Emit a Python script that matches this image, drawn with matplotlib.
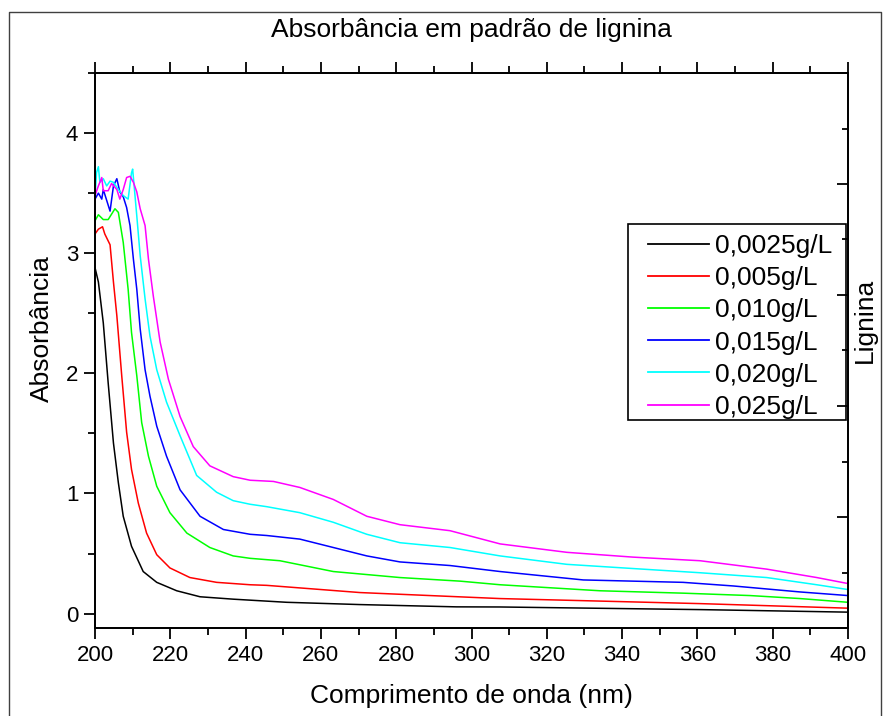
import numpy as np
import matplotlib
matplotlib.use("Agg")
import matplotlib.pyplot as plt
from matplotlib.lines import Line2D
from matplotlib.patches import Rectangle
from matplotlib.ticker import MultipleLocator

plt.rcParams['font.family'] = ['Liberation Sans', 'DejaVu Sans']

# curves (wavelength nm, absorbance)
wl_0025 = [200, 200.9, 202.2, 203.5, 204.9, 206.2, 207.5, 209.7, 212.8, 216.4, 221.7,
           227.9, 236.7, 250.9, 270.4, 296, 307.6, 361, 400]
ab_0025 = [2.88, 2.76, 2.42, 1.92, 1.42, 1.09, 0.81, 0.56, 0.35, 0.26, 0.19,
           0.14, 0.12, 0.094, 0.075, 0.056, 0.055, 0.033, 0.012]

wl_005 = [200, 200.9, 202.0, 202.6, 204.0, 204.9, 205.8, 207.1, 208.4, 209.7, 211.5,
          213.7, 216.4, 219.9, 225.2, 232.3, 241.2, 245.6, 270.4, 307.6, 360.7, 400]
ab_005 = [3.16, 3.2, 3.22, 3.16, 3.07, 2.76, 2.48, 1.98, 1.51, 1.2, 0.92,
          0.67, 0.49, 0.38, 0.30, 0.26, 0.24, 0.235, 0.175, 0.125, 0.083, 0.045]

wl_010 = [200, 200.9, 202.2, 203.5, 205.3, 206.2, 207.5, 208.8, 209.7, 211.1, 212.4,
          214.2, 216.4, 219.9, 224.4, 230.5, 236.7, 241.2, 249.1, 263.3, 281, 297,
          307.6, 334.1, 356.2, 374, 387.3, 400]
ab_010 = [3.27, 3.32, 3.28, 3.28, 3.37, 3.34, 3.09, 2.7, 2.34, 1.98, 1.59,
          1.31, 1.06, 0.84, 0.67, 0.55, 0.48, 0.46, 0.44, 0.35, 0.30, 0.27,
          0.24, 0.19, 0.17, 0.15, 0.125, 0.094]

wl_015 = [200, 200.9, 201.8, 202.2, 204.0, 204.9, 205.8, 206.6, 207.5, 208.4, 209.3,
          210.2, 211.1, 212.0, 213.3, 214.6, 216.4, 219.0, 222.6, 227.9, 234.1, 241.2,
          245.6, 254.4, 263.3, 272.2, 281, 294.3, 307.6, 329.7, 356.2, 369.5, 387.3, 400]
ab_015 = [3.45, 3.5, 3.45, 3.53, 3.35, 3.56, 3.62, 3.51, 3.47, 3.38, 3.23,
          2.95, 2.7, 2.37, 2.03, 1.81, 1.56, 1.31, 1.03, 0.81, 0.70, 0.66,
          0.65, 0.62, 0.55, 0.48, 0.43, 0.40, 0.35, 0.28, 0.26, 0.23, 0.18, 0.15]

wl_020 = [200, 200.4, 200.9, 201.3, 202.2, 203.1, 204.0, 204.9, 206.2, 207.5, 208.8,
          209.7, 210.0, 211.1, 212.0, 213.3, 214.6, 216.4, 219.0, 222.6, 227.0, 232.3,
          236.7, 241.2, 245.6, 254.4, 263.3, 272.2, 281, 294.3, 307.6, 325.3, 342.9,
          360.7, 378.4, 391.7, 400]
ab_020 = [3.45, 3.67, 3.72, 3.59, 3.62, 3.56, 3.6, 3.59, 3.53, 3.48, 3.45,
          3.67, 3.70, 3.31, 2.98, 2.62, 2.31, 2.03, 1.76, 1.48, 1.15, 1.01,
          0.94, 0.91, 0.89, 0.84, 0.76, 0.66, 0.59, 0.55, 0.48, 0.41, 0.375,
          0.34, 0.30, 0.24, 0.20]

wl_025 = [200, 200.9, 201.8, 202.2, 203.5, 204.4, 205.8, 206.6, 207.5, 208.4, 209.3,
          210.2, 211.1, 212.0, 213.3, 214.2, 215.5, 217.3, 219.5, 222.6, 226.1, 230.5,
          236.7, 241.2, 247.4, 254.4, 263.3, 272.2, 281, 294.3, 307.6, 325.3, 342.9,
          360.7, 378.4, 391.7, 400]
ab_025 = [3.48, 3.56, 3.63, 3.52, 3.52, 3.58, 3.53, 3.45, 3.53, 3.63, 3.64,
          3.59, 3.51, 3.37, 3.23, 2.95, 2.64, 2.26, 1.95, 1.64, 1.39, 1.23,
          1.14, 1.11, 1.10, 1.05, 0.95, 0.81, 0.74, 0.69, 0.58, 0.51, 0.47,
          0.44, 0.37, 0.30, 0.25]

labels = ["0,0025g/L", "0,005g/L", "0,010g/L", "0,015g/L", "0,020g/L", "0,025g/L"]
colors = ["#000000", "#ff0000", "#00ff00", "#0000ff", "#00ffff", "#ff00ff"]
series = [(wl_0025, ab_0025), (wl_005, ab_005), (wl_010, ab_010),
          (wl_015, ab_015), (wl_020, ab_020), (wl_025, ab_025)]

W, H = 883, 716
fig = plt.figure(figsize=(W / 100, H / 100), dpi=100)
ax = fig.add_axes([95 / W, 1 - 628 / H, (848 - 95) / W, (628 - 73) / H])

for (x, y), lab, c in zip(series, labels, colors):
    ax.plot(x, y, color=c, lw=1.1, label=lab)

ax.set_xlim(200, 400)
ax.set_ylim(-0.12, 4.5)
ax.xaxis.set_major_locator(MultipleLocator(20))
ax.xaxis.set_minor_locator(MultipleLocator(10))
ax.yaxis.set_major_locator(MultipleLocator(1))
ax.yaxis.set_minor_locator(MultipleLocator(0.5))
ax.tick_params(axis='x', which='both', direction='out', top=True, bottom=True,
               labelsize=16, pad=4, width=1.3)
ax.tick_params(axis='y', which='both', direction='out', left=True, right=False,
               labelsize=16, pad=4, width=1.3)
ax.tick_params(which='major', length=8)
ax.tick_params(which='minor', length=5)
for s in ax.spines.values():
    s.set_linewidth(1.3)

ax.set_xlabel("Comprimento de onda (nm)", fontsize=19)
ax.xaxis.set_label_coords(0.5, -0.1)
ax.set_ylabel("Absorbância", fontsize=19)
ax.yaxis.set_label_coords(-0.054, 0.54)

ax2 = ax.twinx()
ax2.set_ylim(0, 1)
ax2.yaxis.set_major_locator(MultipleLocator(0.2))
ax2.yaxis.set_minor_locator(MultipleLocator(0.1))
ax2.tick_params(axis='y', which='both', direction='in', labelright=False, width=1.3)
ax2.tick_params(which='major', length=8)
ax2.tick_params(which='minor', length=4)
ax2.set_ylabel("Lignina", fontsize=19)
ax2.yaxis.set_label_coords(1.007, 0.555)
for s in ax2.spines.values():
    s.set_linewidth(1.3)

# legend box drawn separately so the inner margins match the original
leg = ax2.legend(*ax.get_legend_handles_labels(), loc='upper left',
                 bbox_to_anchor=(648 / W, 1 - 234 / H), bbox_transform=fig.transFigure,
                 borderaxespad=0, borderpad=0, fontsize=19, frameon=False,
                 handlelength=2.3, handletextpad=0.25, labelspacing=0.31)
for h in leg.get_lines():
    h.set_linewidth(1.3)
fig.add_artist(Rectangle((628 / W, 1 - 420 / H), (846 - 628) / W, (420 - 224) / H,
                         transform=fig.transFigure, fill=False, edgecolor='black',
                         lw=1.2, zorder=5))

fig.text(471 / W, 1 - 30 / H, "Absorbância em padrão de lignina", fontsize=19,
         ha='center', va='center')

# outer frame of the original figure
fx0, fx1, fy = 9 / W, 881 / W, 1 - 12 / H
fig.add_artist(Line2D([fx0, fx0, fx1, fx1], [0, fy, fy, 0], transform=fig.transFigure,
                      color='#404040', lw=1.0))

fig.savefig("out.png", dpi=100)
